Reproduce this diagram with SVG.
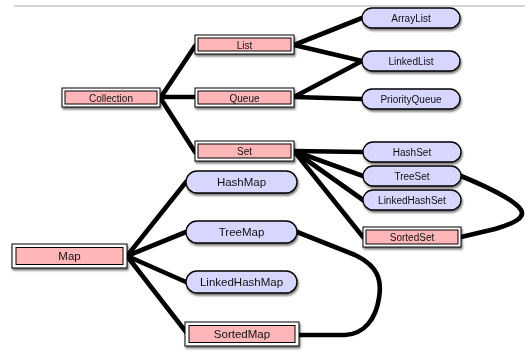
<svg xmlns="http://www.w3.org/2000/svg" width="525" height="352" viewBox="0 0 525 352">
<defs>
<filter id="sh" x="-10%" y="-30%" width="130%" height="180%">
<feGaussianBlur in="SourceAlpha" stdDeviation="1.2"/>
<feOffset dx="1" dy="2" result="b"/>
<feComponentTransfer><feFuncA type="linear" slope="0.55"/></feComponentTransfer>
<feMerge><feMergeNode/><feMergeNode in="SourceGraphic"/></feMerge>
</filter>
</defs>
<style>
.outer{fill:#fff;stroke:#000;stroke-width:1}
.inner{fill:#ffb6b9;stroke:#000;stroke-width:1}
.pill{fill:#d6d6ff;stroke:#000;stroke-width:1.3}
.t{font-family:"Liberation Sans",Arial,sans-serif;font-size:10px;fill:#111;text-anchor:middle;dominant-baseline:central}
.tl{font-size:11.5px}
.c{fill:none;stroke:#000;stroke-width:4.6;stroke-linecap:round;stroke-linejoin:round}
</style>
<line x1="14" y1="6" x2="525" y2="6" stroke="#aaa" stroke-width="1"/>
<g id="connectors">
<path class="c" d="M161 97 L195 46"/>
<path class="c" d="M161 97 L195 97"/>
<path class="c" d="M161 99 L195 152"/>
<path class="c" d="M294 45 L362 18"/>
<path class="c" d="M294 45 L362 61"/>
<path class="c" d="M294 97 L362 61"/>
<path class="c" d="M294 97 L362 99"/>
<path class="c" d="M294 151 L363 152"/>
<path class="c" d="M294 151 L363 176"/>
<path class="c" d="M294 151 L363 200"/>
<path class="c" d="M294 151 L363 237"/>
<path class="c" d="M461 176 C 490 188, 515 200, 521 210 C 526 218, 512 224, 495 229 L 461 237"/>
<path class="c" d="M127 256 L186 182"/>
<path class="c" d="M127 256 L186 232"/>
<path class="c" d="M127 256 L186 282"/>
<path class="c" d="M127 256 L186 332"/>
<path class="c" d="M297 232 L 355 255 C 378 266, 382 280, 379 298 C 376 318, 365 334, 345 335 L 299 335"/>
</g>
<g id="Collection" filter="url(#sh)"><rect class="outer" x="62" y="88" width="98" height="19"/><rect class="inner" x="65" y="91" width="92" height="13"/><text class="t" x="111" y="98">Collection</text></g>
<g id="List" filter="url(#sh)"><rect class="outer" x="195" y="35" width="99" height="19"/><rect class="inner" x="198" y="38" width="93" height="13"/><text class="t" x="244.5" y="45">List</text></g>
<g id="Queue" filter="url(#sh)"><rect class="outer" x="195" y="88" width="99" height="19"/><rect class="inner" x="198" y="91" width="93" height="13"/><text class="t" x="244.5" y="98">Queue</text></g>
<g id="Set" filter="url(#sh)"><rect class="outer" x="195" y="141" width="99" height="20"/><rect class="inner" x="198" y="144" width="93" height="14"/><text class="t" x="244.5" y="151">Set</text></g>
<g id="SortedSet" filter="url(#sh)"><rect class="outer" x="363" y="227" width="98" height="20"/><rect class="inner" x="366" y="230" width="92" height="14"/><text class="t" x="412" y="237">SortedSet</text></g>
<g id="Map" filter="url(#sh)"><rect class="outer" x="12" y="244" width="115" height="24"/><rect class="inner" x="16" y="247.5" width="107" height="17"/><text class="t tl" x="69.5" y="256">Map</text></g>
<g id="SortedMap" filter="url(#sh)"><rect class="outer" x="185" y="322" width="114" height="24"/><rect class="inner" x="189" y="325.5" width="106" height="17"/><text class="t tl" x="242" y="334">SortedMap</text></g>
<g id="ArrayList" filter="url(#sh)"><rect class="pill" x="362" y="8" width="98" height="20" rx="10"/><text class="t" x="411" y="18">ArrayList</text></g>
<g id="LinkedList" filter="url(#sh)"><rect class="pill" x="362" y="51" width="98" height="20" rx="10"/><text class="t" x="411" y="61">LinkedList</text></g>
<g id="PriorityQueue" filter="url(#sh)"><rect class="pill" x="362" y="89" width="98" height="20" rx="10"/><text class="t" x="411" y="99">PriorityQueue</text></g>
<g id="HashSet" filter="url(#sh)"><rect class="pill" x="363" y="142" width="98" height="20" rx="10"/><text class="t" x="412" y="152">HashSet</text></g>
<g id="TreeSet" filter="url(#sh)"><rect class="pill" x="363" y="166" width="98" height="20" rx="10"/><text class="t" x="412" y="176">TreeSet</text></g>
<g id="LinkedHashSet" filter="url(#sh)"><rect class="pill" x="363" y="190" width="98" height="20" rx="10"/><text class="t" x="412" y="200">LinkedHashSet</text></g>
<g id="HashMap" filter="url(#sh)"><rect class="pill" x="186" y="171" width="111" height="22" rx="11"/><text class="t tl" x="241.5" y="182">HashMap</text></g>
<g id="TreeMap" filter="url(#sh)"><rect class="pill" x="186" y="221" width="111" height="22" rx="11"/><text class="t tl" x="241.5" y="232">TreeMap</text></g>
<g id="LinkedHashMap" filter="url(#sh)"><rect class="pill" x="186" y="271" width="111" height="22" rx="11"/><text class="t tl" x="241.5" y="282">LinkedHashMap</text></g>
</svg>
